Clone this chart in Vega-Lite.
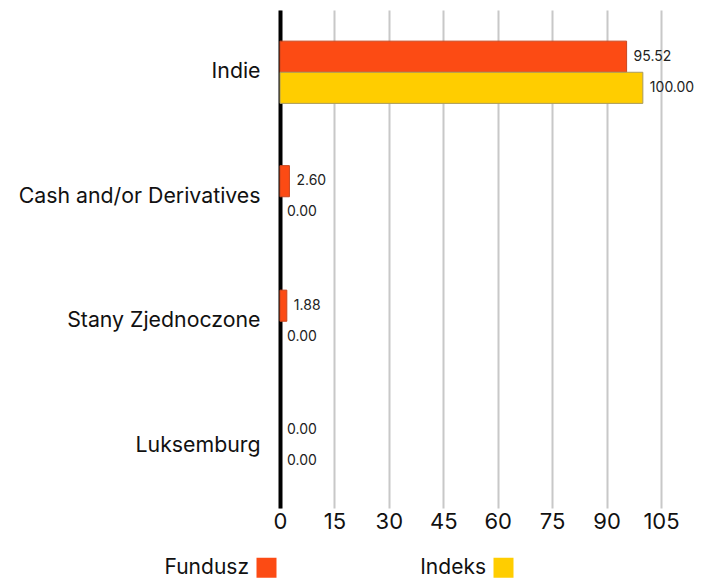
{
  "$schema": "https://vega.github.io/schema/vega-lite/v6.json",
  "autosize": "none",
  "width": 381,
  "height": 498,
  "padding": {"left": 280, "top": 10, "right": 43, "bottom": 73},
  "background": "white",
  "config": {
    "font": "Inter",
    "view": {"stroke": null}
  },
  "data": {
    "values": [
      {"country": "Indie", "series": "Fundusz", "value": 95.52},
      {"country": "Indie", "series": "Indeks", "value": 100.00},
      {"country": "Cash and/or Derivatives", "series": "Fundusz", "value": 2.60},
      {"country": "Cash and/or Derivatives", "series": "Indeks", "value": 0.00},
      {"country": "Stany Zjednoczone", "series": "Fundusz", "value": 1.88},
      {"country": "Stany Zjednoczone", "series": "Indeks", "value": 0.00},
      {"country": "Luksemburg", "series": "Fundusz", "value": 0.00},
      {"country": "Luksemburg", "series": "Indeks", "value": 0.00}
    ]
  },
  "encoding": {
    "y": {
      "field": "country",
      "type": "nominal",
      "sort": ["Indie", "Cash and/or Derivatives", "Stany Zjednoczone", "Luksemburg"],
      "scale": {"paddingInner": 0.5, "paddingOuter": 0.25},
      "axis": {
        "title": null,
        "ticks": false,
        "labelFontSize": 21.3,
        "labelLimit": 400,
        "labelColor": "#111111",
        "labelPadding": 20,
        "domainColor": "#000000",
        "domainWidth": 4,
        "grid": false
      }
    },
    "yOffset": {
      "field": "series",
      "type": "nominal",
      "sort": ["Fundusz", "Indeks"],
      "scale": {"paddingInner": 0, "paddingOuter": 0}
    },
    "x": {
      "field": "value",
      "type": "quantitative",
      "scale": {"domain": [0, 105], "nice": false},
      "axis": {
        "title": null,
        "values": [0, 15, 30, 45, 60, 75, 90, 105],
        "domain": false,
        "ticks": false,
        "labelFontSize": 22,
        "labelColor": "#111111",
        "labelPadding": 3,
        "labelFlush": false,
        "grid": true,
        "gridColor": "#c8c8c8",
        "gridWidth": 2
      }
    }
  },
  "layer": [
    {
      "mark": {"type": "bar"},
      "encoding": {
        "color": {
          "field": "series",
          "type": "nominal",
          "sort": ["Fundusz", "Indeks"],
          "scale": {"domain": ["Fundusz", "Indeks"], "range": ["#FC4B14", "#FFCD00"]},
          "legend": {
            "title": null,
            "orient": "none",
            "legendX": -24,
            "legendY": 547,
            "direction": "horizontal",
            "symbolType": "square",
            "symbolSize": 400,
            "symbolStrokeWidth": 0,
            "symbolOpacity": 1,
            "labelFontSize": 21,
            "labelColor": "#111111",
            "labelAlign": "right",
            "labelOffset": -28,
            "columnPadding": 143
          }
        },
        "stroke": {
          "field": "series",
          "type": "nominal",
          "scale": {"domain": ["Fundusz", "Indeks"], "range": ["#c9461f", "#a89a60"]},
          "legend": null
        },
        "strokeWidth": {
          "condition": {"test": "datum.value > 0", "value": 1},
          "value": 0
        }
      }
    },
    {
      "mark": {"type": "text", "align": "left", "baseline": "middle", "dx": 7, "fontSize": 14, "color": "#222222"},
      "encoding": {
        "text": {"field": "value", "type": "quantitative", "format": ".2f"}
      }
    }
  ]
}
